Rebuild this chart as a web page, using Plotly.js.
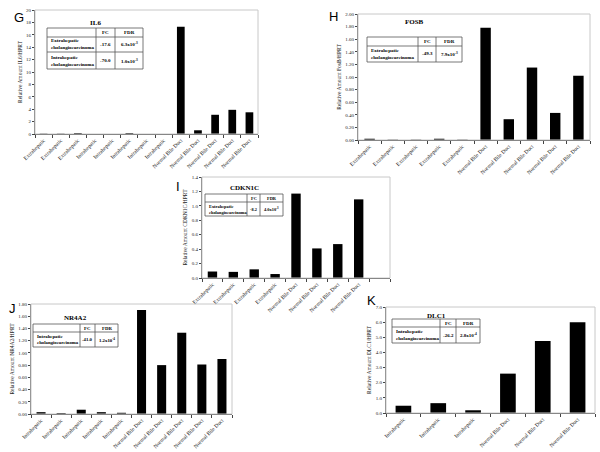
<!DOCTYPE html>
<html>
<head>
<meta charset="utf-8">
<script src="https://cdn.plot.ly/plotly-3.0.1.min.js"></script>
<style>
  body { margin: 0; background: #fff; }
  #chart { width: 600px; height: 452px; }
</style>
</head>
<body>
<div id="chart"></div>
<script>
// Data for each panel
const gLabels = ['Extrahepatic', 'Extrahepatic', 'Extrahepatic', 'Intrahepatic', 'Intrahepatic', 'Intrahepatic', 'Intrahepatic', 'Intrahepatic',
  'Normal Bile Duct', 'Normal Bile Duct', 'Normal Bile Duct', 'Normal Bile Duct', 'Normal Bile Duct'];
const gValues = [0.05, 0.05, 0.15, 0, 0, 0.15, 0, 0, 17.3, 0.6, 3.1, 3.9, 3.5];

const hLabels = ['Extrahepatic', 'Extrahepatic', 'Extrahepatic', 'Extrahepatic', 'Extrahepatic',
  'Normal Bile Duct', 'Normal Bile Duct', 'Normal Bile Duct', 'Normal Bile Duct', 'Normal Bile Duct'];
const hValues = [0.02, 0.005, 0.005, 0.02, 0.005, 1.78, 0.33, 1.15, 0.43, 1.02];

const iLabels = ['Extrahepatic', 'Extrahepatic', 'Extrahepatic', 'Extrahepatic',
  'Normal Bile Duct', 'Normal Bile Duct', 'Normal Bile Duct', 'Normal Bile Duct', ' '];
const iValues = [0.09, 0.085, 0.12, 0.055, 1.17, 0.41, 0.47, 1.09, null];

const jLabels = ['Intrahepatic', 'Intrahepatic', 'Intrahepatic', 'Intrahepatic', 'Intrahepatic',
  'Normal Bile Duct', 'Normal Bile Duct', 'Normal Bile Duct', 'Normal Bile Duct', 'Normal Bile Duct'];
const jValues = [0.03, 0.015, 0.07, 0.03, 0.02, 1.70, 0.80, 1.33, 0.81, 0.90];

const kLabels = ['Intrahepatic', 'Intrahepatic', 'Intrahepatic', 'Normal Bile Duct', 'Normal Bile Duct', 'Normal Bile Duct'];
const kValues = [0.48, 0.65, 0.18, 2.6, 4.75, 6.0];

// table contents
const gTable = [['Extrahepatic<br>cholangiocarcinoma', '-17.6', '6.3x10<sup>-3</sup>'],
  ['Intrahepatic<br>cholangiocarcinoma', '-70.0', '1.0x10<sup>-3</sup>']];
const hTable = [['Extrahepatic<br>cholangiocarcinoma', '-49.3', '7.9x10<sup>-3</sup>']];
const iTable = [['Extrahepatic<br>cholangiocarcinoma', '-8.2', '4.0x10<sup>-3</sup>']];
const jTable = [['Intrahepatic<br>cholangiocarcinoma', '-41.0', '1.2x10<sup>-4</sup>']];
const kTable = [['Intrahepatic<br>cholangiocarcinoma', '-26.2', '2.8x10<sup>-4</sup>']];

const W = 600, H = 452;
const px = v => v / W;
const py = v => 1 - v / H;
const SERIF = 'Liberation Serif, Times New Roman, serif';

const panels = [
  {id: '', labels: gLabels, values: gValues, x: [35, 258], y: [10, 134], range: 20, dtick: 2, fmt: '.0f', ytitle: 'Relative Amount IL6/HPRT'},
  {id: '2', labels: hLabels, values: hValues, x: [358, 590], y: [14, 140], range: 2, dtick: 0.2, fmt: '.2f', ytitle: 'Relative Amount FosB/HPRT'},
  {id: '3', labels: iLabels, values: iValues, x: [202, 390], y: [177, 278], range: 1.4, dtick: 0.2, fmt: '.1f', ytitle: 'Relative Amount CDKN1C/HPRT'},
  {id: '4', labels: jLabels, values: jValues, x: [31, 232], y: [304, 414], range: 1.8, dtick: 0.2, fmt: '.2f', ytitle: 'Relative Amount NR4A2/HPRT'},
  {id: '5', labels: kLabels, values: kValues, x: [386, 595], y: [307, 413], range: 7, dtick: 1, fmt: '.1f', ytitle: 'Relative Amount DLC1/HPRT'}
];

const traces = [];
const layout = {
  width: W, height: H,
  margin: {l: 0, r: 0, t: 0, b: 0},
  paper_bgcolor: '#fff', plot_bgcolor: '#fff',
  showlegend: false,
  font: {family: SERIF, size: 5, color: '#222'},
  shapes: [], annotations: []
};

panels.forEach(p => {
  const idx = p.labels.map((_, i) => i);
  traces.push({
    type: 'bar', x: idx, y: p.values, width: 0.45,
    marker: {color: '#000'},
    xaxis: 'x' + p.id, yaxis: 'y' + p.id, hoverinfo: 'none'
  });
  layout['xaxis' + p.id] = {
    domain: [px(p.x[0]), px(p.x[1])], anchor: 'y' + p.id,
    range: [-0.5, p.labels.length - 0.5],
    tickvals: idx, ticktext: p.labels, tickangle: -45,
    tickfont: {family: SERIF, size: 5.5, color: '#222'},
    ticks: '', showgrid: false, zeroline: false,
    showline: true, linecolor: '#444', linewidth: 1,
    minor: {ticks: 'outside', tick0: -0.5, dtick: 1, ticklen: 3, tickcolor: '#444', showgrid: false}
  };
  layout['yaxis' + p.id] = {
    domain: [py(p.y[1]), py(p.y[0])], anchor: 'x' + p.id,
    range: [0, p.range], dtick: p.dtick, tick0: 0, tickformat: p.fmt,
    tickfont: {family: SERIF, size: 5, color: '#222'},
    ticks: 'outside', ticklen: 2, tickcolor: '#444',
    showgrid: false, zeroline: false,
    showline: true, linecolor: '#666', linewidth: 1,
    title: {text: p.ytitle, font: {family: SERIF, size: 5.5, color: '#222'}, standoff: 3}
  };
  // light frame around plot area
  layout.shapes.push({
    type: 'rect', xref: 'x' + p.id + ' domain', yref: 'y' + p.id + ' domain',
    x0: 0, x1: 1, y0: 0, y1: 1, line: {color: '#c8c8c8', width: 1}
  });
});

// panel letters
[['G', 19, 17], ['H', 333, 16], ['I', 178, 187], ['J', 12, 308], ['K', 371, 300]].forEach(([t, x, y]) => {
  layout.annotations.push({
    text: t, x: px(x), y: py(y), xref: 'paper', yref: 'paper', showarrow: false,
    font: {family: 'Liberation Sans, Arial, sans-serif', size: 13, color: '#000'},
    xanchor: 'center', yanchor: 'middle'
  });
});

// small FC / FDR tables drawn with shapes and annotations
function addTable(title, titleY, x0, colA, colB, x1, rowYs, rows, fs) {
  const lineStyle = {color: '#555', width: 0.8};
  const y0 = rowYs[0], yEnd = rowYs[rowYs.length - 1];
  layout.annotations.push({
    text: '<b>' + title + '</b>', x: px((x0 + x1) / 2), y: py(titleY), xref: 'paper', yref: 'paper',
    showarrow: false, font: {family: SERIF, size: 7, color: '#000'}, xanchor: 'center', yanchor: 'middle'
  });
  layout.shapes.push({type: 'rect', xref: 'paper', yref: 'paper', x0: px(x0), x1: px(x1), y0: py(yEnd), y1: py(y0), line: lineStyle});
  [colA, colB].forEach(cx => layout.shapes.push({type: 'line', xref: 'paper', yref: 'paper', x0: px(cx), x1: px(cx), y0: py(yEnd), y1: py(y0), line: lineStyle}));
  rowYs.slice(1, -1).forEach(ry => layout.shapes.push({type: 'line', xref: 'paper', yref: 'paper', x0: px(x0), x1: px(x1), y0: py(ry), y1: py(ry), line: lineStyle}));
  const hy = (rowYs[0] + rowYs[1]) / 2;
  const font = {family: SERIF, size: fs, color: '#000'};
  [['FC', (colA + colB) / 2], ['FDR', (colB + x1) / 2]].forEach(([t, cx]) => layout.annotations.push({
    text: '<b>' + t + '</b>', x: px(cx), y: py(hy), xref: 'paper', yref: 'paper', showarrow: false,
    font: font, xanchor: 'center', yanchor: 'middle'
  }));
  rows.forEach((r, i) => {
    const ry = (rowYs[i + 1] + rowYs[i + 2]) / 2;
    layout.annotations.push({
      text: '<b>' + r[0] + '</b>', x: px(x0 + 1.5), y: py(ry), xref: 'paper', yref: 'paper', showarrow: false,
      font: font, xanchor: 'left', yanchor: 'middle', align: 'left'
    });
    layout.annotations.push({
      text: '<b>' + r[1] + '</b>', x: px((colA + colB) / 2), y: py(ry), xref: 'paper', yref: 'paper', showarrow: false,
      font: font, xanchor: 'center', yanchor: 'middle'
    });
    layout.annotations.push({
      text: '<b>' + r[2] + '</b>', x: px((colB + x1) / 2), y: py(ry), xref: 'paper', yref: 'paper', showarrow: false,
      font: font, xanchor: 'center', yanchor: 'middle'
    });
  });
}

addTable('IL6', 23, 47, 96, 115, 143, [28, 37, 52, 69], gTable, 5);
addTable('FOSB', 22, 367, 418, 436, 462, [37, 46, 62], hTable, 5);
addTable('CDKN1C', 188, 205, 247, 260, 283, [194, 202, 216], iTable, 4.4);
addTable('NR4A2', 318, 33, 80, 95, 118, [324, 332, 347], jTable, 4.8);
addTable('DLC1', 316, 392, 440, 456, 480, [319, 327, 343], kTable, 5);

Plotly.newPlot('chart', traces, layout, {displayModeBar: false, staticPlot: true});
</script>
</body>
</html>
